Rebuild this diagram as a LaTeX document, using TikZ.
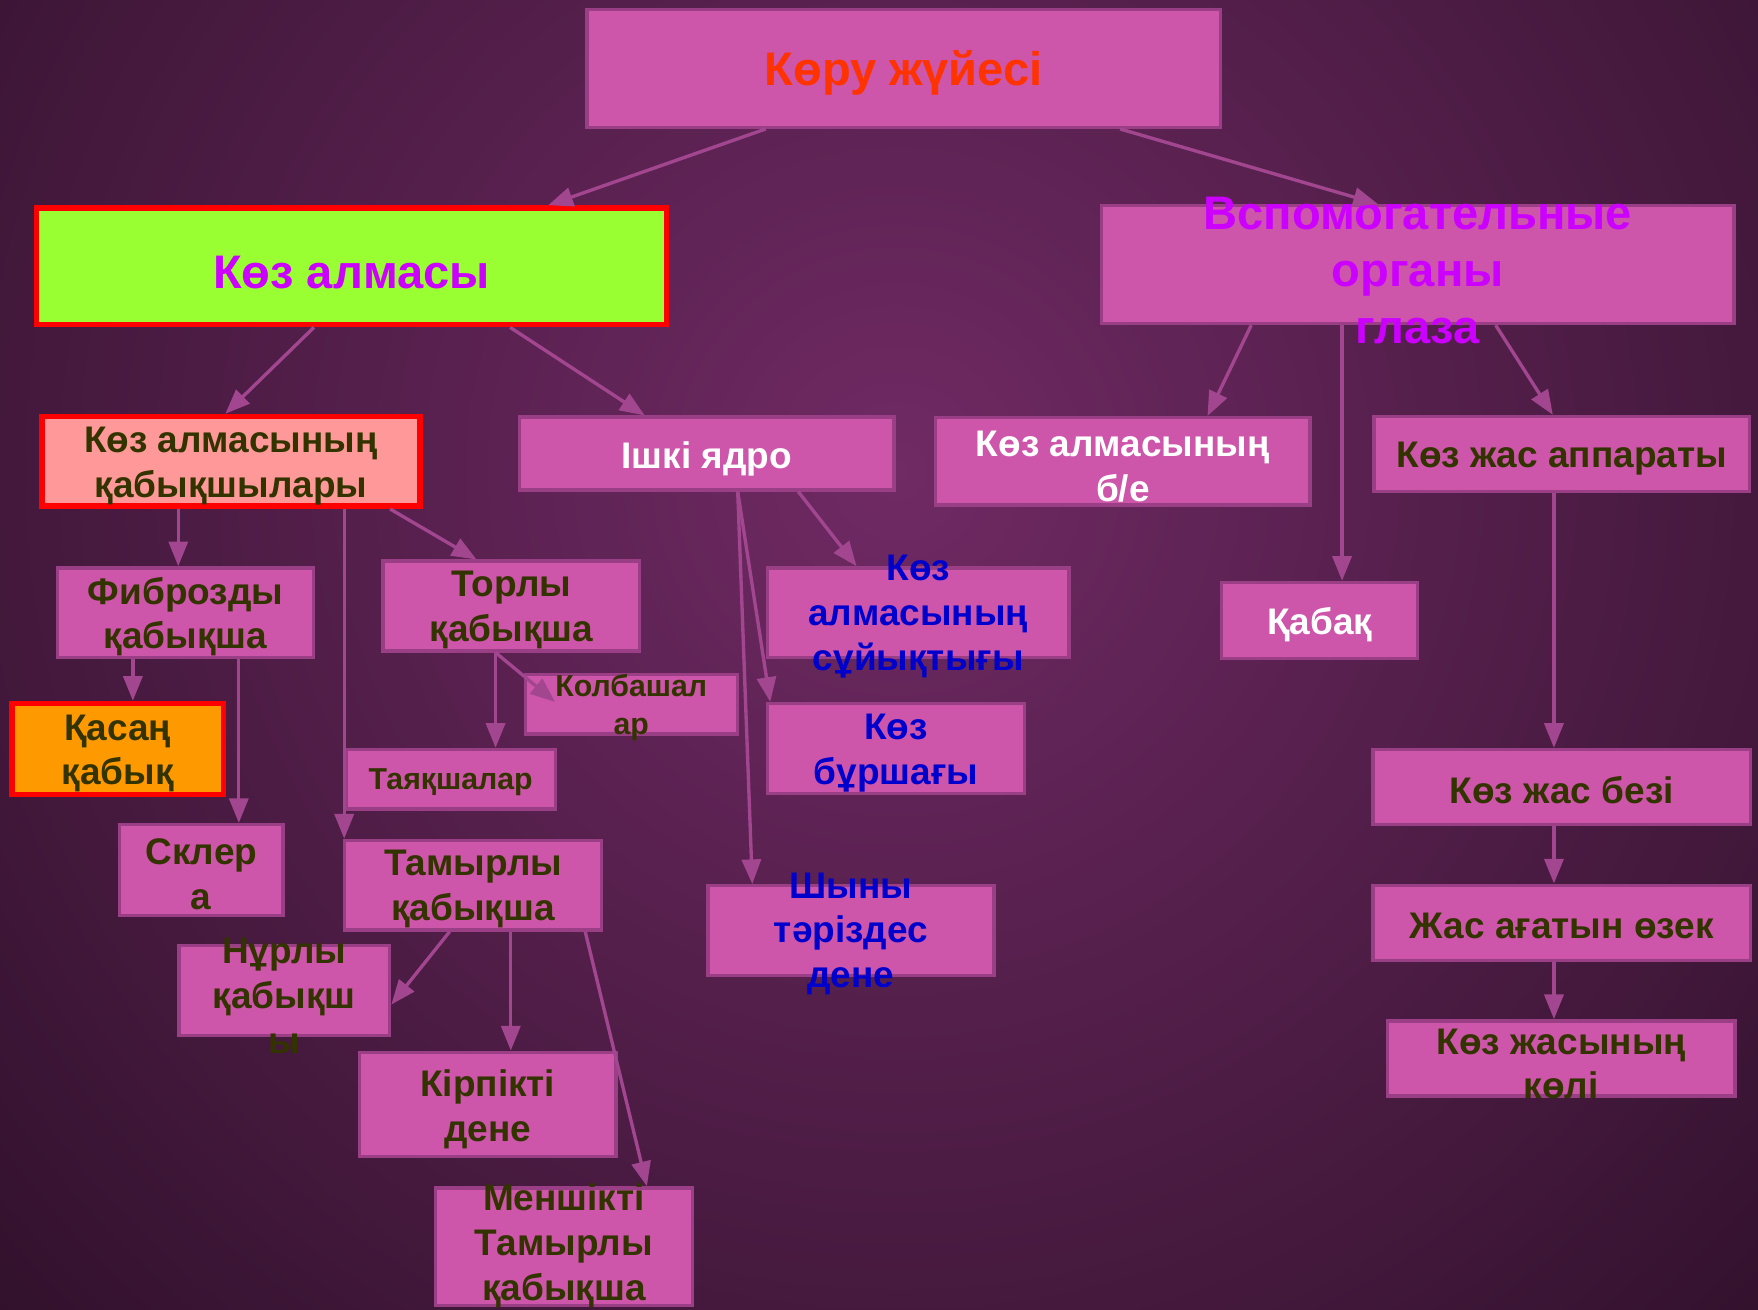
\documentclass[tikz,border=0pt]{standalone}
\usepackage{fontspec}
\setmainfont{Liberation Sans}
\usetikzlibrary{arrows.meta}
\definecolor{bgdark}{HTML}{150613}
\definecolor{bglight}{HTML}{702A64}
\definecolor{boxfill}{HTML}{CD55AA}
\definecolor{boxline}{HTML}{9A3E85}
\definecolor{arrowc}{HTML}{A2468F}
\definecolor{olive}{HTML}{333300}
\definecolor{tblue}{HTML}{0000CC}
\definecolor{tpurple}{HTML}{CC00FF}
\definecolor{tred}{HTML}{FF3300}
\definecolor{salmon}{HTML}{FF9999}
\definecolor{lgreen}{HTML}{99FF33}
\definecolor{orng}{HTML}{FF9900}
\tikzset{
  pbox/.style n args={2}{draw=boxline, fill=boxfill, line width=3pt, inner sep=0pt,
    minimum width=#1pt, minimum height=#2pt},
  rbox/.style n args={3}{draw=red, fill=#3, line width=5pt, inner sep=0pt,
    minimum width=#1pt, minimum height=#2pt},
  tx/.style={font=\fontsize{33}{40}\selectfont\bfseries, align=center, inner sep=0pt, text=#1},
  tx/.default=olive,
  tbig/.style={font=\fontsize{42}{51}\selectfont\bfseries, align=center, inner sep=0pt, text=#1},
  tsmall/.style={font=\fontsize{27}{34}\selectfont\bfseries, align=center, inner sep=0pt, text=olive},
  arr/.style={draw=arrowc, line width=3pt, -{Triangle[length=22pt,width=17pt]}}
}
\begin{document}
\begin{tikzpicture}[x=1pt,y=-1pt]
\useasboundingbox (0,0) rectangle (1568,1168);
\begin{scope}
  \clip (0,0) rectangle (1568,1168);
  \fill[bgdark] (0,0) rectangle (1568,1168);
  \shade[inner color=bglight, outer color=bgdark] (800,420) circle[radius=1600pt];
\end{scope}
% boxes
\node[pbox={565}{105}] (b0) at (806,61) {};
\node[rbox={562}{104}{lgreen}] (b1) at (313.5,237.5) {};
\node[pbox={564}{105}] (b2) at (1264.5,236) {};
\node[rbox={337}{80}{salmon}] (b3) at (206,411.5) {};
\node[pbox={334}{65}] (b4) at (630.5,404.5) {};
\node[pbox={334}{78}] (b5) at (1001.5,411.5) {};
\node[pbox={335}{67}] (b6) at (1393,405) {};
\node[pbox={228}{80}] (b7) at (165.5,546.5) {};
\node[pbox={229}{80}] (b8) at (456,540.5) {};
\node[pbox={189}{53}] (b9) at (563,628) {};
\node[pbox={187}{53}] (b10) at (402,695) {};
\node[pbox={269}{80}] (b11) at (819,546.5) {};
\node[pbox={229}{80}] (b12) at (799,667.5) {};
\node[pbox={175}{68}] (b13) at (1177,553.5) {};
\node[rbox={189}{81}{orng}] (b14) at (105,668) {};
\node[pbox={146}{81}] (b15) at (179.5,776) {};
\node[pbox={229}{80}] (b16) at (422,789.5) {};
\node[pbox={255}{80}] (b17) at (759,830) {};
\node[pbox={337}{67}] (b18) at (1393,702) {};
\node[pbox={337}{67}] (b19) at (1393,823) {};
\node[pbox={310}{67}] (b20) at (1392.5,944) {};
\node[pbox={188}{80}] (b21) at (253.5,883.5) {};
\node[pbox={229}{93}] (b22) at (435,985) {};
\node[pbox={229}{105}] (b23) at (503,1112) {};
% texts
\node[tbig=tred] (t0) at (806,65) {Көру жүйесі};
\node[tbig=tpurple] (t1) at (313.5,243) {Көз алмасы};
\node[tbig=tpurple] (t2) at (1264.5,241) {Вспомогательные\\органы\\глаза};
\node[tx] (t3) at (206,416) {Көз алмасының\\қабықшылары};
\node[tx=white] (t4) at (630.5,409) {Ішкі ядро};
\node[tx=white] (t5) at (1001.5,416) {Көз алмасының\\б/е};
\node[tx] (t6) at (1393,409) {Көз жас аппараты};
\node[tx] (t7) at (165.5,550) {Фиброзды\\қабықша};
\node[tx] (t8) at (456,544) {Торлы\\қабықша};
\node[tsmall] (t9) at (563,631) {Колбашал\\ар};
\node[tsmall] (t10) at (402,698) {Таяқшалар};
\node[tx=tblue] (t11) at (819,550) {Көз\\алмасының\\сұйықтығы};
\node[tx=tblue] (t12) at (799,672) {Көз\\бұршағы};
\node[tx=white] (t13) at (1177,557) {Қабақ};
\node[tx] (t14) at (105,672) {Қасаң\\қабық};
\node[tx] (t15) at (179.5,780) {Склер\\а};
\node[tx] (t16) at (422,793) {Тамырлы\\қабықша};
\node[tx=tblue] (t17) at (759,833) {Шыны\\тәріздес\\дене};
\node[tx] (t18) at (1393,705) {Көз жас безі};
\node[tx] (t19) at (1393,826) {Жас ағатын өзек};
\node[tx] (t20) at (1392.5,949) {Көз жасының\\көлі};
\node[tx] (t21) at (253.5,888) {Нұрлы\\қабықш\\ы};
\node[tx] (t22) at (435,989) {Кірпікті\\дене};
\node[tx] (t23) at (503,1111) {Меншікті\\Тамырлы\\қабықша};
% connectors
\draw[arr] ([xshift=-123pt]b0.south) -- ([xshift=175.5pt]b1.north);
\draw[arr] ([xshift=193pt]b0.south) -- ([xshift=-35.5pt]b2.north);
\draw[arr] ([xshift=-33.5pt]b1.south) -- ([xshift=-5pt]b3.north);
\draw[arr] ([xshift=141.5pt]b1.south) -- ([xshift=-55.5pt]b4.north);
\draw[arr] ([xshift=-148.5pt]b2.south) -- ([xshift=75.5pt]b5.north);
\draw[arr] ([xshift=-67.5pt]b2.south) -- ([xshift=20pt]b13.north);
\draw[arr] ([xshift=69.5pt]b2.south) -- ([xshift=-8pt]b6.north);
\draw[arr] ([xshift=-7pt]b6.south) -- ([xshift=-7pt]b18.north);
\draw[arr] ([xshift=-7pt]b18.south) -- ([xshift=-7pt]b19.north);
\draw[arr] ([xshift=-7pt]b19.south) -- ([xshift=-6.5pt]b20.north);
\draw[arr] ([xshift=-47pt]b3.south) -- ([xshift=-6.5pt]b7.north);
\draw[arr] ([xshift=101pt]b3.south) -- ([xshift=-115pt]b16.north);
\draw[arr] ([xshift=142pt]b3.south) -- ([xshift=-31pt]b8.north);
\draw[arr] ([xshift=-47pt]b7.south) -- ([xshift=13.5pt]b14.north);
\draw[arr] ([xshift=47.5pt]b7.south) -- ([xshift=33.5pt]b15.north);
\draw[arr] ([xshift=-14pt]b8.south) -- ([xshift=40pt]b10.north);
\draw[arr] ([xshift=-14pt]b8.south) -- ([xshift=-68pt,yshift=2pt]b9.center);
\draw[arr] ([xshift=81.5pt]b4.south) -- ([xshift=-55pt]b11.north);
\draw[arr] ([xshift=27.5pt]b4.south) -- ([xshift=-112pt]b12.north);
\draw[arr] ([xshift=27.5pt]b4.south) -- ([xshift=-88pt]b17.north);
\draw[arr] ([xshift=-21pt]b16.south) -- ([yshift=-12.5pt]b21.east);
\draw[arr] ([xshift=33.6pt]b16.south) -- ([xshift=20.6pt]b22.north);
\draw[arr] ([xshift=100pt]b16.south) -- ([xshift=74pt]b23.north);
\end{tikzpicture}
\end{document}
